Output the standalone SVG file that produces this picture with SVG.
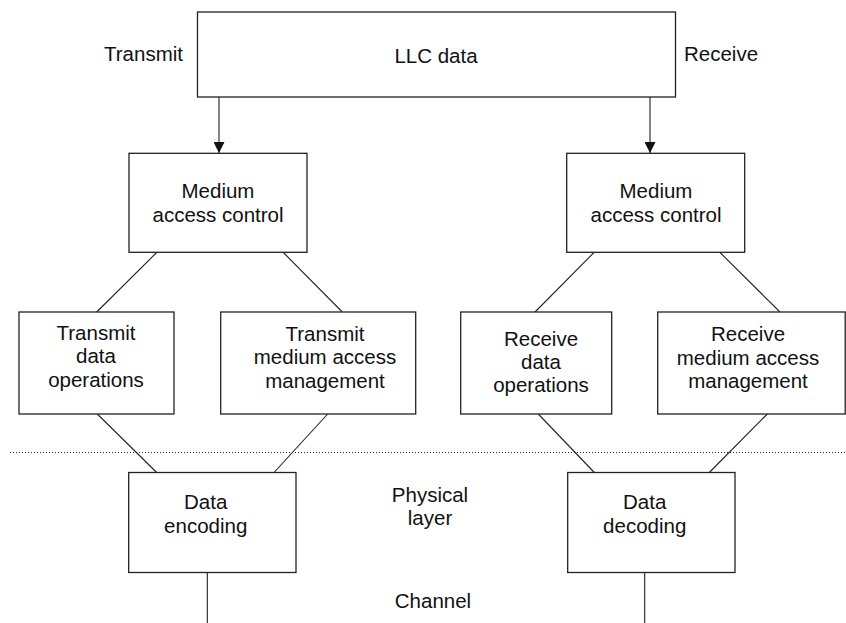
<svg xmlns="http://www.w3.org/2000/svg" width="846" height="623" viewBox="0 0 846 623">
<style>
.box{fill:#fff;stroke:#222;stroke-width:1.3}
.ln{stroke:#222;stroke-width:1.1;fill:none}
text{font-family:"Liberation Sans",Arial,sans-serif;font-size:20.5px;fill:#111;text-anchor:middle}
</style>
<defs>
<marker id="ah" markerWidth="11" markerHeight="11" refX="11" refY="5.5" orient="auto" markerUnits="userSpaceOnUse">
<path d="M0,0 L11,5.5 L0,11 Z" fill="#111"/>
</marker>
</defs>
<rect width="846" height="623" fill="#fff"/>
<g id="connectors">
<line class="ln" x1="219" y1="97" x2="219" y2="153" marker-end="url(#ah)"/>
<line class="ln" x1="650" y1="97" x2="650" y2="153" marker-end="url(#ah)"/>
<line class="ln" x1="156.7" y1="252.5" x2="96.7" y2="312"/>
<line class="ln" x1="283.3" y1="252.5" x2="342.3" y2="312"/>
<line class="ln" x1="594" y1="252.5" x2="535" y2="312"/>
<line class="ln" x1="720" y1="252.5" x2="780" y2="312"/>
<line class="ln" x1="97.3" y1="414" x2="156.7" y2="472.5"/>
<line class="ln" x1="327.7" y1="414" x2="274" y2="472.5"/>
<line class="ln" x1="538.3" y1="414" x2="594.3" y2="472.5"/>
<line class="ln" x1="767.3" y1="414" x2="709.3" y2="472.5"/>
<line class="ln" x1="207.3" y1="572.5" x2="207.3" y2="623"/>
<line class="ln" x1="644.7" y1="572.5" x2="644.7" y2="623"/>
<line x1="10" y1="452.5" x2="846" y2="452.5" stroke="#222" stroke-width="1" stroke-dasharray="1,2"/>
</g>
<g id="labels">
<text x="143.5" y="61">Transmit</text>
<text x="721" y="61">Receive</text>
<text x="430" y="501.7">Physical</text>
<text x="430" y="525">layer</text>
<text x="433" y="608.3">Channel</text>
</g>
<g id="llc">
<rect class="box" x="197.5" y="12" width="478" height="85"/>
<text x="436" y="63">LLC data</text>
</g>
<g id="mac-tx">
<rect class="box" x="129" y="153.3" width="178" height="99"/>
<text x="218" y="198">Medium</text>
<text x="218" y="221.5">access control</text>
</g>
<g id="mac-rx">
<rect class="box" x="566.7" y="153.3" width="178" height="99"/>
<text x="656" y="198">Medium</text>
<text x="656" y="221.5">access control</text>
</g>
<g id="tx-data-ops">
<rect class="box" x="19" y="312" width="155" height="102"/>
<text x="96" y="340">Transmit</text>
<text x="96" y="363.3">data</text>
<text x="96" y="386.7">operations</text>
</g>
<g id="tx-mam">
<rect class="box" x="220.7" y="312" width="195" height="102"/>
<text x="325" y="341">Transmit</text>
<text x="325" y="364.3">medium access</text>
<text x="325" y="387.7">management</text>
</g>
<g id="rx-data-ops">
<rect class="box" x="460.7" y="312" width="151" height="102"/>
<text x="541" y="346">Receive</text>
<text x="541" y="369.3">data</text>
<text x="541" y="392">operations</text>
</g>
<g id="rx-mam">
<rect class="box" x="657.7" y="312" width="187.5" height="102"/>
<text x="748" y="341">Receive</text>
<text x="748" y="364.5">medium access</text>
<text x="748" y="388">management</text>
</g>
<g id="encoding">
<rect class="box" x="128.7" y="472.5" width="167.3" height="100"/>
<text x="205.7" y="509.3">Data</text>
<text x="205.7" y="532.7">encoding</text>
</g>
<g id="decoding">
<rect class="box" x="567.7" y="472.5" width="167.3" height="100"/>
<text x="644.7" y="509.3">Data</text>
<text x="644.7" y="532.7">decoding</text>
</g>
</svg>
